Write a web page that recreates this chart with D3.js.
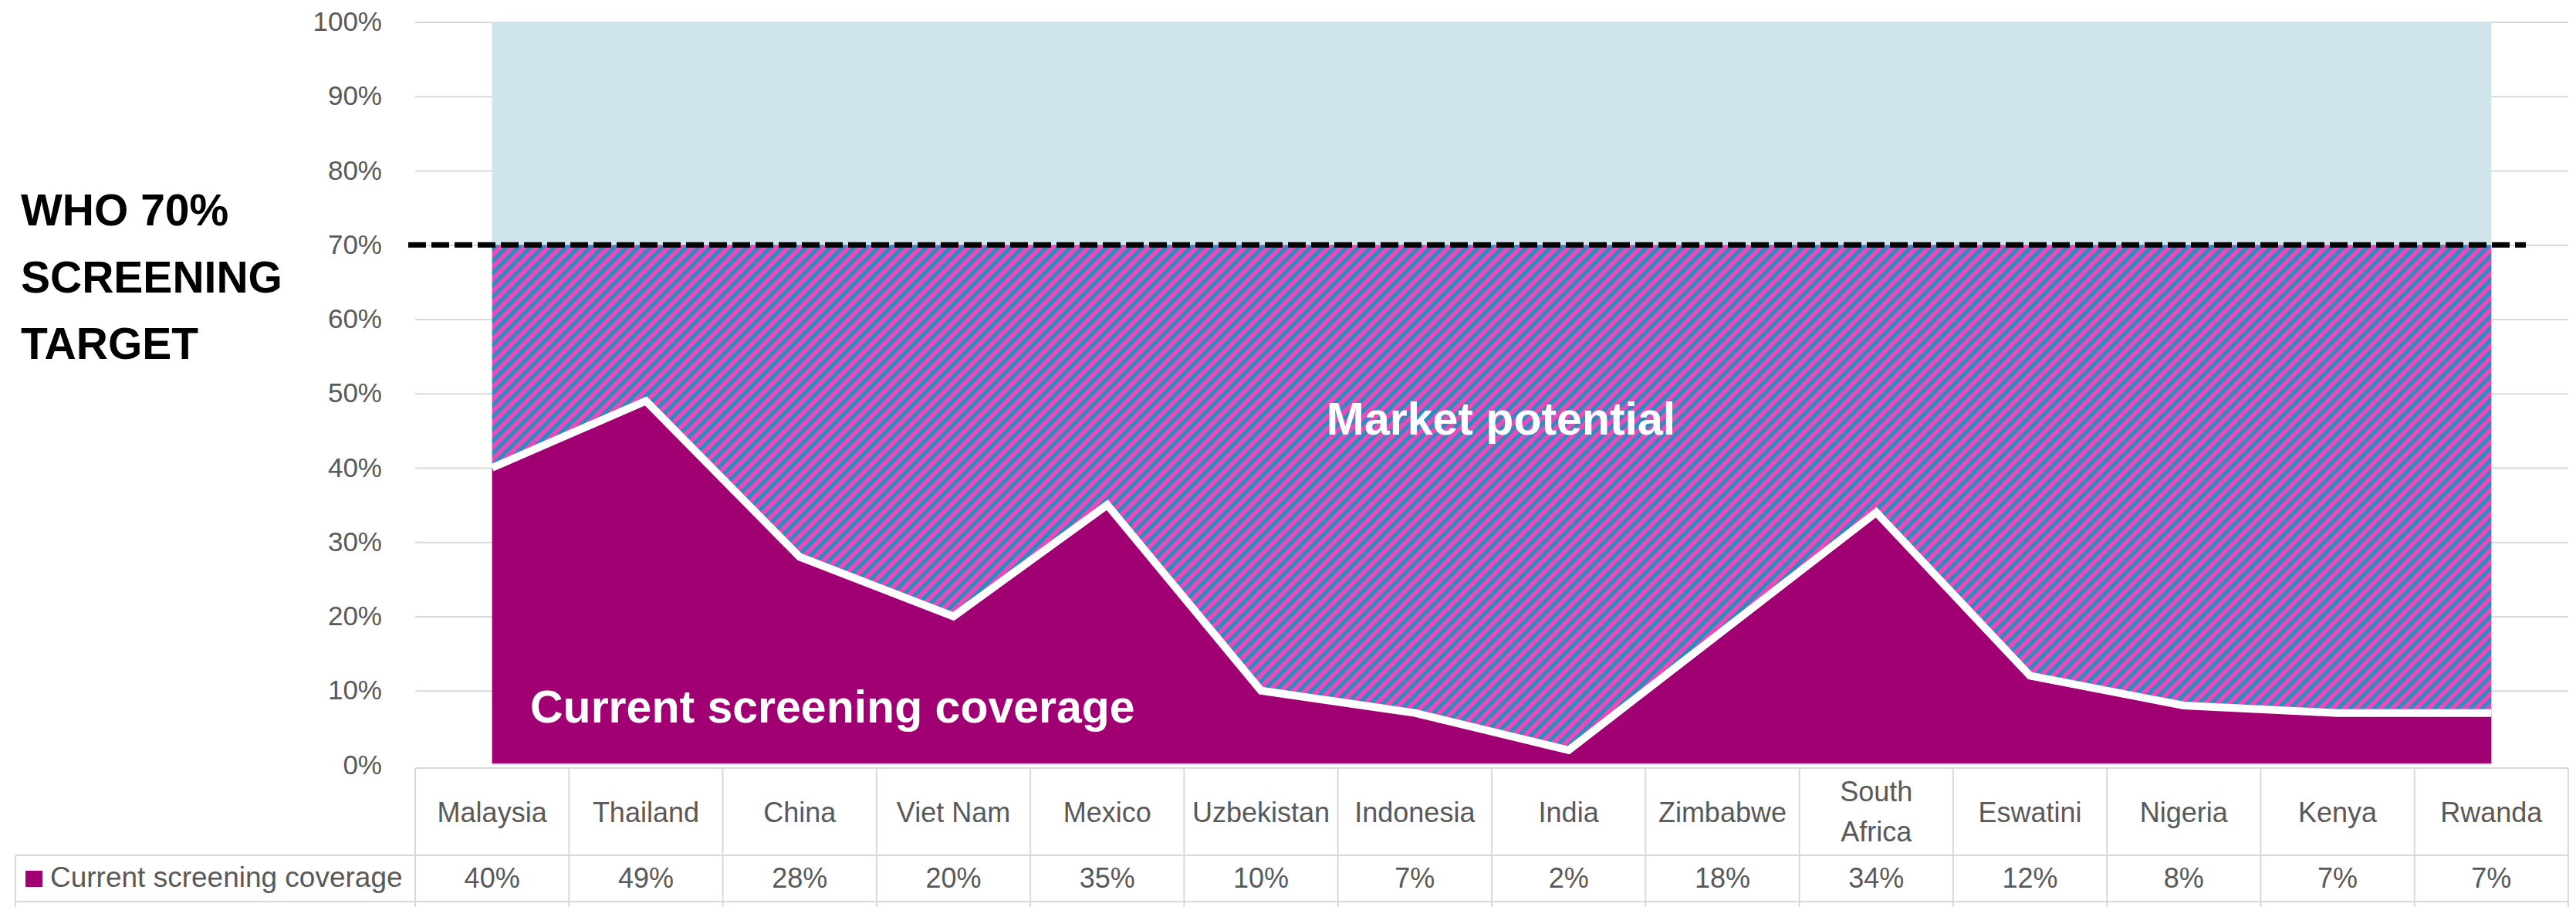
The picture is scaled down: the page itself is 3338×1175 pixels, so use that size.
<!DOCTYPE html>
<html lang="en">
<head>
<meta charset="utf-8">
<title>Screening coverage vs WHO target</title>
<script src="https://d3js.org/d3.v7.min.js"></script>
<style>
  body { margin: 0; background: #fff; }
  text { font-family: "Liberation Sans", Arial, sans-serif; }
</style>
</head>
<body>
<script>
// data
var countries = ["Malaysia", "Thailand", "China", "Viet Nam", "Mexico", "Uzbekistan", "Indonesia",
                 "India", "Zimbabwe", "South Africa", "Eswatini", "Nigeria", "Kenya", "Rwanda"];
var coverage = [0.40, 0.49, 0.28, 0.20, 0.35, 0.10, 0.07, 0.02, 0.18, 0.34, 0.12, 0.08, 0.07, 0.07];
var target = 0.70;
var yTicks = [0, 0.1, 0.2, 0.3, 0.4, 0.5, 0.6, 0.7, 0.8, 0.9, 1.0];
var seriesName = "Current screening coverage";

var W = 3338, H = 1175;
var left = 538, right = 3328, y0 = 991, y1 = 28.5;
var tableTop = 995, rowLine = 1108, tableBottom = 1168;

var magenta = "#a10073", lightBlue = "#cfe4eb", gray = "#595959", lineGray = "#d9d9d9";

var svg = d3.select("body").append("svg")
    .attr("width", W)
    .attr("height", H);

var x = d3.scaleBand().domain(countries).range([left, right]);
var bw = x.bandwidth();
function cx(c) { return x(c) + bw / 2; }

var y = d3.scaleLinear().domain([0, 1]).range([y0, y1]);

var rows = countries.map(function(c, i) { return { c: c, v: coverage[i] }; });

// stripes for the market potential band
var defs = svg.append("defs");
var pat = defs.append("pattern")
    .attr("id", "hatch")
    .attr("patternUnits", "userSpaceOnUse")
    .attr("width", 11)
    .attr("height", 11)
    .attr("patternTransform", "rotate(45)");
pat.append("rect").attr("width", 11).attr("height", 11).attr("fill", "#2a8cc0");
pat.append("rect").attr("width", 6).attr("height", 11).attr("fill", "#e64bb8");

// y axis with gridlines
var yAxis = d3.axisLeft(y)
    .tickValues(yTicks)
    .tickFormat(d3.format(".0%"))
    .tickSize(-(right - left))
    .tickPadding(43);

var ga = svg.append("g")
    .attr("transform", "translate(" + left + ",0)")
    .call(yAxis);
ga.select(".domain").remove();
ga.selectAll(".tick line")
    .attr("stroke", lineGray)
    .attr("stroke-width", 2)
    .attr("display", function(d) { return d === 0 ? "none" : null; });
ga.selectAll(".tick text")
    .attr("fill", gray)
    .style("font-size", "35px");

// full background band up to 100%
svg.append("path")
    .datum(rows)
    .attr("fill", lightBlue)
    .attr("d", d3.area()
        .x(function(d) { return cx(d.c); })
        .y0(y(0))
        .y1(y(1)));

// market potential: coverage up to the target
svg.append("path")
    .datum(rows)
    .attr("fill", "url(#hatch)")
    .attr("d", d3.area()
        .x(function(d) { return cx(d.c); })
        .y0(function(d) { return y(d.v); })
        .y1(y(target)));

// current coverage
svg.append("path")
    .datum(rows)
    .attr("fill", magenta)
    .attr("d", d3.area()
        .x(function(d) { return cx(d.c); })
        .y0(y(0) - 2)
        .y1(function(d) { return y(d.v); }));

svg.append("path")
    .datum(rows)
    .attr("fill", "none")
    .attr("stroke", "#fff")
    .attr("stroke-width", 10)
    .attr("stroke-linejoin", "miter")
    .attr("d", d3.line()
        .x(function(d) { return cx(d.c); })
        .y(function(d) { return y(d.v); }));

// WHO target line
svg.append("line")
    .attr("x1", 529)
    .attr("x2", 3273)
    .attr("y1", y(target))
    .attr("y2", y(target))
    .attr("stroke", "#000")
    .attr("stroke-width", 7)
    .attr("stroke-dasharray", "23,7");

// labels
var who = svg.append("text")
    .attr("x", 27)
    .attr("font-size", 57)
    .attr("font-weight", "bold")
    .attr("fill", "#000");
["WHO 70%", "SCREENING", "TARGET"].forEach(function(t, i) {
    who.append("tspan").attr("x", 27).attr("y", 292 + i * 86.5).text(t);
});

svg.append("text")
    .attr("x", 1945)
    .attr("y", 563)
    .attr("text-anchor", "middle")
    .attr("font-size", 59)
    .attr("font-weight", "bold")
    .attr("fill", "#fff")
    .text("Market potential");

svg.append("text")
    .attr("x", 687)
    .attr("y", 936)
    .attr("font-size", 59)
    .attr("font-weight", "bold")
    .attr("fill", "#fff")
    .text(seriesName);

// data table
var tbl = svg.append("g");
tbl.append("line").attr("x1", left).attr("x2", right).attr("y1", tableTop).attr("y2", tableTop);
tbl.append("line").attr("x1", 20).attr("x2", right).attr("y1", rowLine).attr("y2", rowLine);
tbl.append("line").attr("x1", 20).attr("x2", right).attr("y1", tableBottom).attr("y2", tableBottom);
tbl.append("line").attr("x1", 20).attr("x2", 20).attr("y1", rowLine).attr("y2", H);
tbl.selectAll(".vline")
    .data(countries.concat(["end"]))
    .enter().append("line")
    .attr("class", "vline")
    .attr("x1", function(d, i) { return left + i * bw; })
    .attr("x2", function(d, i) { return left + i * bw; })
    .attr("y1", tableTop)
    .attr("y2", H);
tbl.selectAll("line").attr("stroke", lineGray).attr("stroke-width", 2);

var heads = tbl.selectAll(".head")
    .data(countries)
    .enter().append("text")
    .attr("class", "head")
    .attr("text-anchor", "middle")
    .attr("font-size", 36)
    .attr("fill", gray);
heads.each(function(c) {
    var t = d3.select(this);
    if (c === "South Africa") {
        t.append("tspan").attr("x", cx(c)).attr("y", 1038).text("South");
        t.append("tspan").attr("x", cx(c)).attr("y", 1090).text("Africa");
    } else {
        t.append("tspan").attr("x", cx(c)).attr("y", 1065).text(c);
    }
});

tbl.selectAll(".val")
    .data(rows)
    .enter().append("text")
    .attr("class", "val")
    .attr("x", function(d) { return cx(d.c); })
    .attr("y", 1150)
    .attr("text-anchor", "middle")
    .attr("font-size", 36)
    .attr("fill", gray)
    .text(function(d) { return d3.format(".0%")(d.v); });

tbl.append("rect")
    .attr("x", 33).attr("y", 1128)
    .attr("width", 22).attr("height", 21)
    .attr("fill", magenta);
tbl.append("text")
    .attr("x", 65)
    .attr("y", 1149)
    .attr("font-size", 37)
    .attr("fill", gray)
    .text(seriesName);
</script>
</body>
</html>
